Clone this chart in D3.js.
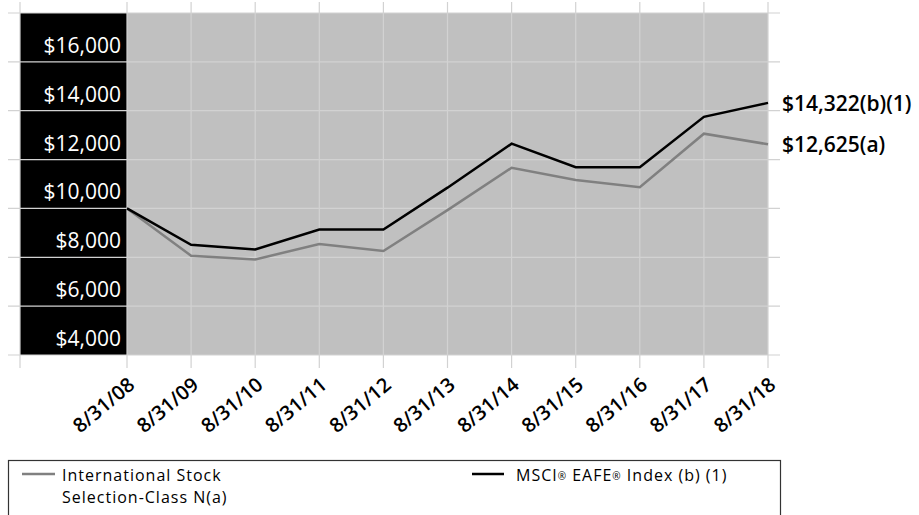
<!DOCTYPE html>
<html>
<head>
<meta charset="utf-8">
<script src="https://cdn.jsdelivr.net/npm/d3@7"></script>
<style>
  body { margin: 0; background: #fff; }
  svg text { font-family: "Open Sans", "Noto Sans", sans-serif; }
</style>
</head>
<body>
<svg id="chart" width="919" height="515"></svg>
<script>
// data
var dates = ["8/31/08","8/31/09","8/31/10","8/31/11","8/31/12","8/31/13","8/31/14","8/31/15","8/31/16","8/31/17","8/31/18"];
var fundValues = [10000, 8064, 7912, 8540, 8254, 9930, 11665, 11160, 10870, 13060, 12625];
var indexValues = [10000, 8514, 8322, 9140, 9140, 10850, 12650, 11690, 11690, 13750, 14322];
var yTicks = [4000, 6000, 8000, 10000, 12000, 14000, 16000, 18000];
var endLabels = ["$14,322(b)(1)", "$12,625(a)"];
var fundName = ["International Stock", "Selection-Class N(a)"];

var svg = d3.select("#chart");

var x = d3.scalePoint().domain(dates).range([127, 768]);
var y = d3.scaleLinear().domain([4000, 18000]).range([355, 13]);

// plot background
svg.append("rect")
    .attr("x", 127).attr("y", y(18000))
    .attr("width", 768 - 127).attr("height", y(4000) - y(18000))
    .attr("fill", "#c0c0c0");

// black label band
svg.append("rect")
    .attr("x", 20).attr("y", y(18000))
    .attr("width", 107).attr("height", y(4000) - y(18000))
    .attr("fill", "#000");

// horizontal grid
svg.selectAll(".hgrid")
    .data(yTicks)
    .enter().append("line")
    .attr("x1", 8).attr("x2", 780)
    .attr("y1", function(d){ return y(d); })
    .attr("y2", function(d){ return y(d); })
    .attr("stroke", "#d2d2d2")
    .attr("stroke-width", 1.2);

// vertical grid + ticks
var vx = [20].concat(dates.map(function(d){ return x(d); }));
svg.selectAll(".vgrid")
    .data(vx)
    .enter().append("line")
    .attr("x1", function(d){ return d; })
    .attr("x2", function(d){ return d; })
    .attr("y1", 2).attr("y2", 368)
    .attr("stroke", "#d2d2d2")
    .attr("stroke-width", 1.2);

// y labels (white on black)
svg.selectAll(".ylab")
    .data(yTicks.slice(0, 7))
    .enter().append("text")
    .attr("x", 121)
    .attr("y", function(d){ return y(d) - 9; })
    .attr("text-anchor", "end")
    .attr("fill", "#fff")
    .attr("font-size", 21)
    .attr("font-weight", 500)
    .text(function(d){ return "$" + d3.format(",")(d); });

// x labels rotated
svg.selectAll(".xlab")
    .data(dates)
    .enter().append("text")
    .attr("transform", function(d){ return "translate(" + (x(d) + 9) + ",387) rotate(-40)"; })
    .attr("text-anchor", "end")
    .attr("fill", "#000")
    .attr("font-size", 20)
    .attr("font-weight", 600)
    .text(function(d){ return d; });

// lines
var line = d3.line()
    .x(function(d, i){ return x(dates[i]); })
    .y(function(d){ return y(d); });

svg.append("path")
    .datum(fundValues)
    .attr("d", line)
    .attr("fill", "none")
    .attr("stroke", "#808080")
    .attr("stroke-width", 2.5);

svg.append("path")
    .datum(indexValues)
    .attr("d", line)
    .attr("fill", "none")
    .attr("stroke", "#000")
    .attr("stroke-width", 2.5);

// end labels
svg.append("text")
    .attr("x", 782).attr("y", y(indexValues[10]) + 8)
    .attr("font-size", 21).attr("font-weight", 600)
    .text(endLabels[0]);
svg.append("text")
    .attr("x", 782).attr("y", y(fundValues[10]) + 8)
    .attr("font-size", 21).attr("font-weight", 600)
    .text(endLabels[1]);

// legend
var legend = svg.append("g");
legend.append("rect")
    .attr("x", 8.5).attr("y", 460.5)
    .attr("width", 772).attr("height", 70)
    .attr("fill", "none")
    .attr("stroke", "#333")
    .attr("stroke-width", 1.2);

legend.append("line")
    .attr("x1", 22).attr("x2", 55).attr("y1", 474).attr("y2", 474)
    .attr("stroke", "#808080").attr("stroke-width", 2.5);
legend.append("text")
    .attr("y", 481)
    .attr("font-size", 16)
    .attr("letter-spacing", 1)
    .selectAll("tspan")
    .data(fundName)
    .enter().append("tspan")
    .attr("x", 62)
    .attr("dy", function(d, i){ return i ? 22 : 0; })
    .text(function(d){ return d; });

legend.append("line")
    .attr("x1", 472).attr("x2", 504).attr("y1", 474).attr("y2", 474)
    .attr("stroke", "#000").attr("stroke-width", 2.5);
var t = legend.append("text")
    .attr("x", 516).attr("y", 481)
    .attr("font-size", 16)
    .attr("letter-spacing", 1);
t.append("tspan").text("MSCI");
t.append("tspan").attr("font-size", 10).attr("dy", -1).text("®");
t.append("tspan").attr("dy", 1).text(" EAFE");
t.append("tspan").attr("font-size", 10).attr("dy", -1).text("®");
t.append("tspan").attr("dy", 1).text(" Index (b) (1)");
</script>
</body>
</html>
